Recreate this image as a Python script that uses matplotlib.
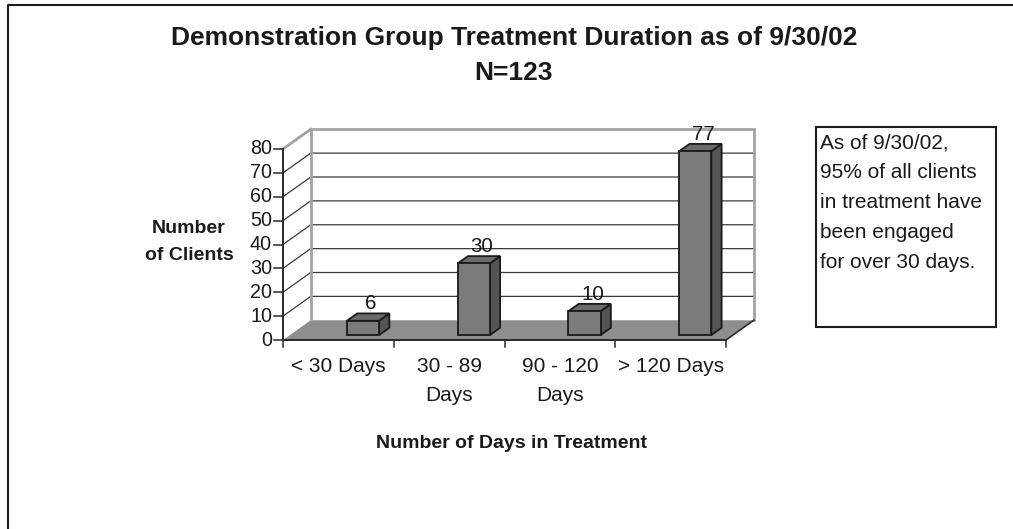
import matplotlib
matplotlib.use("Agg")
import matplotlib.pyplot as plt
from matplotlib.patches import Polygon, Rectangle
from matplotlib.lines import Line2D

# ---------------- data ----------------
categories = ["< 30 Days", "30 - 89\nDays", "90 - 120\nDays", "> 120 Days"]
clients = [6, 30, 10, 77]
y_ticks = [0, 10, 20, 30, 40, 50, 60, 70, 80]
title_line1 = "Demonstration Group Treatment Duration as of 9/30/02"
title_line2 = "N=123"
y_label = "Number\nof Clients"
x_label = "Number of Days in Treatment"
note_lines = ["As of 9/30/02,", "95% of all clients", "in treatment have",
              "been engaged", "for over 30 days."]

plt.rcParams['font.family'] = ['Liberation Sans', 'DejaVu Sans']
TXT = '#1a1a1a'

W, H = 1013, 529
fig = plt.figure(figsize=(W / 100, H / 100), dpi=100)
fig.patch.set_facecolor('white')

# geometry of the pseudo-3D plot (pixels)
X0, Y0 = 283.0, 340.0          # front origin
CW = 110.75                    # pixels per category
YMAX = y_ticks[-1]
VS = 191.0 / YMAX              # pixels per value unit
ax = fig.add_axes([0, 0, 1, 1])
ax.set_xlim(-X0 / CW, (W - X0) / CW)
ax.set_ylim((Y0 - H) / VS, Y0 / VS)
ax.axis('off')

DX = 27.75 / CW                # depth offset in category units
DY = 19.75 / VS                # depth offset in value units
NC = len(categories)


def P(c, v, d):
    return (c + d * DX, v + d * DY)


def px(p):
    return p / CW


def pv(p):
    return p / VS


WALL = '#a3a3a3'
GRID = '#3a3a3a'

# floor
floor = Polygon([P(0, 0, 0), P(NC, 0, 0), P(NC, 0, 1), P(0, 0, 1)],
                closed=True, facecolor='#8e8e8e', edgecolor='none', zorder=1)
ax.add_patch(floor)

# gridlines on side wall and back wall
for v in y_ticks[1:-1]:
    xs, ys = zip(P(0, v, 0), P(0, v, 1), P(NC, v, 1))
    ax.plot(xs, ys, color=GRID, lw=0.9, zorder=1.5)

# wall frame
xs, ys = zip(P(0, 0, 1), P(0, YMAX, 1), P(NC, YMAX, 1), P(NC, 0, 1))
ax.plot(xs, ys, color=WALL, lw=2.0, zorder=1.6, solid_joinstyle='miter')
xs, ys = zip(P(0, YMAX, 0), P(0, YMAX, 1))
ax.plot(xs, ys, color=WALL, lw=2.0, zorder=1.6)

# floor right edge and axes
xs, ys = zip(P(NC, 0, 0), P(NC, 0, 1))
ax.plot(xs, ys, color='#2a2a2a', lw=1.2, zorder=2)
ax.plot([0, NC], [0, 0], color='#2a2a2a', lw=1.4, zorder=5)
ax.plot([0, 0], [0, YMAX], color='#2a2a2a', lw=1.4, zorder=5)

# y ticks + labels
for v in y_ticks:
    ax.plot([-px(9), 0], [v, v], color='#2a2a2a', lw=1.1, zorder=5)
    ax.text(-px(11), v, str(v), ha='right', va='center', fontsize=14.2,
            color=TXT, zorder=6)

# x ticks + category labels
for i in range(NC + 1):
    ax.plot([i, i], [0, -pv(7)], color='#2a2a2a', lw=1.1, zorder=5)
for i, lab in enumerate(categories):
    ax.text(i + 0.5, -pv(357 - Y0), lab, ha='center', va='top', fontsize=15,
            color=TXT, linespacing=1.68, zorder=6)

# bars
OFF, BW = 0.515, 0.29
DF, DB = 0.25, 0.62
FRONT, TOP, SIDE = '#7b7b7b', '#6b6b6b', '#545454'
for i, val in enumerate(clients):
    l = i + OFF
    r = l + BW
    top = Polygon([P(l, val, DF), P(r, val, DF), P(r, val, DB), P(l, val, DB)],
                  closed=True, facecolor=TOP, edgecolor='#1a1a1a', lw=1.3,
                  zorder=3)
    side = Polygon([P(r, 0, DF), P(r, 0, DB), P(r, val, DB), P(r, val, DF)],
                   closed=True, facecolor=SIDE, edgecolor='#1a1a1a', lw=1.3,
                   zorder=3)
    fl, fb = P(l, 0, DF)
    front = Rectangle((fl, fb), BW, val, facecolor=FRONT,
                      edgecolor='#1a1a1a', lw=1.3, zorder=3.2)
    for p in (side, top, front):
        ax.add_patch(p)
    cx, cy = P((l + r) / 2, val, (DF + DB) / 2)
    _, by = P(l, val, DB)
    ax.text(cx + px(3), by + pv(4), str(val), ha='center', va='baseline',
            fontsize=14.8, color=TXT, zorder=6)

# figure texts
fig.text(514 / W, 1 - 38 / H, title_line1, ha='center', va='center',
         fontsize=19, fontweight='bold', color=TXT)
fig.text(514 / W, 1 - 73 / H, title_line2, ha='center', va='center',
         fontsize=19, fontweight='bold', color=TXT)
fig.text(189 / W, 1 - 242 / H, y_label, ha='center', va='center',
         fontsize=14, fontweight='bold', color=TXT, linespacing=1.72)
fig.text(512 / W, 1 - 443 / H, x_label, ha='center', va='center',
         fontsize=14, fontweight='bold', color=TXT)

# note box
fig.add_artist(Rectangle((816 / W, 1 - 327 / H), (996 - 816) / W, (327 - 127) / H,
                         transform=fig.transFigure, facecolor='none',
                         edgecolor='#1c1c1c', lw=1.5))
for k, line in enumerate(note_lines):
    fig.text(820 / W, 1 - (148.5 + 30 * k) / H, line, ha='left',
             va='baseline', fontsize=15, color=TXT)

# outer frame (top and left)
fig.add_artist(Line2D([8 / W, 8 / W, 1.0], [0.0, 1 - 5 / H, 1 - 5 / H],
                      transform=fig.transFigure, color='#1c1c1c', lw=1.5))

fig.savefig('out.png', dpi=100)
